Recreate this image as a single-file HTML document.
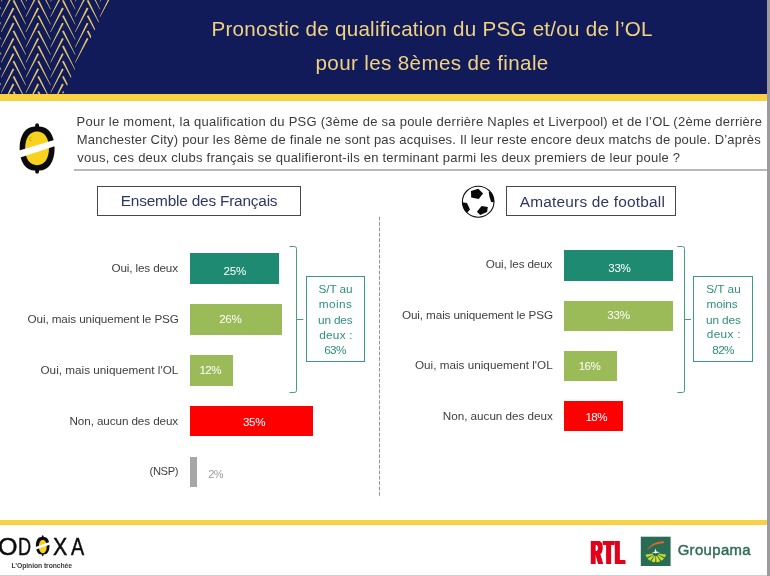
<!DOCTYPE html>
<html lang="fr">
<head>
<meta charset="utf-8">
<title>Pronostic de qualification du PSG et/ou de l'OL</title>
<style>
html,body{margin:0;padding:0;}
body{width:770px;height:576px;position:relative;overflow:hidden;background:#fff;font-family:"Liberation Sans",sans-serif;}
.abs{position:absolute;}
.t{position:absolute;white-space:nowrap;line-height:1;}
#hdr{left:0;top:0;width:767px;height:94.4px;background:#111b5a;}
#yl1{left:0;top:94.3px;width:767px;height:6.3px;background:#f9d03f;}
#yl2{left:0;top:519.5px;width:767px;height:5px;background:#f9d03f;}
#redge{left:767px;top:0;width:3px;height:576px;background:#9c9c9e;}
#bedge{left:0;top:575px;width:767px;height:1px;background:#cfcfcf;}
.title{color:#f1d281;font-size:20.3px;}
.q{color:#3b3b3b;font-size:12.1px;}
#qline{left:74px;top:169px;width:693px;height:2px;background:#b9b9b9;}
.box{position:absolute;border:1px solid #46474f;box-sizing:border-box;background:#fff;}
.bt{color:#2f3763;font-size:15.6px;}
.lab{color:#3f3f3f;font-size:12px;}
.bar{position:absolute;}
.val{color:#fff;}
.teal{background:#1f8a72;}
.olive{background:#9bbb59;}
.red{background:#ff0000;}
.grey{background:#a6a6a6;}
.stbox{position:absolute;border:1px solid #3a9a86;box-sizing:border-box;background:#fff;}
.st{color:#2e8f7b;}
</style>
</head>
<body>
<div id="hdr" class="abs"></div>
<svg class="abs" style="left:0;top:0" width="130" height="95" viewBox="0 0 130 95">
<defs><clipPath id="hc"><polygon points="0,0 109.5,0 62.5,95 0,95"/></clipPath></defs>
<g fill="#e4c56b" clip-path="url(#hc)"><polygon points="-12.05,-44.80 -10.35,-45.60 1.43,-21.20 0.87,-21.20"/><polygon points="-12.05,-38.00 -10.35,-37.20 -23.27,-13.60 -23.83,-13.60"/><polygon points="-12.05,-29.60 -10.35,-30.40 1.43,-6.00 0.87,-6.00"/><polygon points="-12.05,-22.80 -10.35,-22.00 -23.27,1.60 -23.83,1.60"/><polygon points="-12.05,-14.40 -10.35,-15.20 1.43,9.20 0.87,9.20"/><polygon points="-12.05,-7.60 -10.35,-6.80 -23.27,16.80 -23.83,16.80"/><polygon points="-12.05,0.80 -10.35,0.00 1.43,24.40 0.87,24.40"/><polygon points="-12.05,7.60 -10.35,8.40 -23.27,32.00 -23.83,32.00"/><polygon points="-12.05,16.00 -10.35,15.20 1.43,39.60 0.87,39.60"/><polygon points="-12.05,22.80 -10.35,23.60 -23.27,47.20 -23.83,47.20"/><polygon points="-12.05,31.20 -10.35,30.40 1.43,54.80 0.87,54.80"/><polygon points="-12.05,38.00 -10.35,38.80 -23.27,62.40 -23.83,62.40"/><polygon points="-12.05,46.40 -10.35,45.60 1.43,70.00 0.87,70.00"/><polygon points="-12.05,53.20 -10.35,54.00 -23.27,77.60 -23.83,77.60"/><polygon points="-12.05,61.60 -10.35,60.80 1.43,85.20 0.87,85.20"/><polygon points="-12.05,68.40 -10.35,69.20 -23.27,92.80 -23.83,92.80"/><polygon points="-12.05,76.80 -10.35,76.00 1.43,100.40 0.87,100.40"/><polygon points="-12.05,83.60 -10.35,84.40 -23.27,108.00 -23.83,108.00"/><polygon points="-12.05,92.00 -10.35,91.20 1.43,115.60 0.87,115.60"/><polygon points="-12.05,98.80 -10.35,99.60 -23.27,123.20 -23.83,123.20"/><polygon points="-12.05,107.20 -10.35,106.40 1.43,130.80 0.87,130.80"/><polygon points="-12.05,114.00 -10.35,114.80 -23.27,138.40 -23.83,138.40"/><polygon points="12.65,-44.80 14.35,-45.60 26.13,-21.20 25.57,-21.20"/><polygon points="12.65,-38.00 14.35,-37.20 1.43,-13.60 0.87,-13.60"/><polygon points="12.65,-29.60 14.35,-30.40 26.13,-6.00 25.57,-6.00"/><polygon points="12.65,-22.80 14.35,-22.00 1.43,1.60 0.87,1.60"/><polygon points="12.65,-14.40 14.35,-15.20 26.13,9.20 25.57,9.20"/><polygon points="12.65,-7.60 14.35,-6.80 1.43,16.80 0.87,16.80"/><polygon points="12.65,0.80 14.35,0.00 26.13,24.40 25.57,24.40"/><polygon points="12.65,7.60 14.35,8.40 1.43,32.00 0.87,32.00"/><polygon points="12.65,16.00 14.35,15.20 26.13,39.60 25.57,39.60"/><polygon points="12.65,22.80 14.35,23.60 1.43,47.20 0.87,47.20"/><polygon points="12.65,31.20 14.35,30.40 26.13,54.80 25.57,54.80"/><polygon points="12.65,38.00 14.35,38.80 1.43,62.40 0.87,62.40"/><polygon points="12.65,46.40 14.35,45.60 26.13,70.00 25.57,70.00"/><polygon points="12.65,53.20 14.35,54.00 1.43,77.60 0.87,77.60"/><polygon points="12.65,61.60 14.35,60.80 26.13,85.20 25.57,85.20"/><polygon points="12.65,68.40 14.35,69.20 1.43,92.80 0.87,92.80"/><polygon points="12.65,76.80 14.35,76.00 26.13,100.40 25.57,100.40"/><polygon points="12.65,83.60 14.35,84.40 1.43,108.00 0.87,108.00"/><polygon points="12.65,92.00 14.35,91.20 26.13,115.60 25.57,115.60"/><polygon points="12.65,98.80 14.35,99.60 1.43,123.20 0.87,123.20"/><polygon points="12.65,107.20 14.35,106.40 26.13,130.80 25.57,130.80"/><polygon points="12.65,114.00 14.35,114.80 1.43,138.40 0.87,138.40"/><polygon points="37.35,-44.80 39.05,-45.60 50.83,-21.20 50.27,-21.20"/><polygon points="37.35,-38.00 39.05,-37.20 26.13,-13.60 25.57,-13.60"/><polygon points="37.35,-29.60 39.05,-30.40 50.83,-6.00 50.27,-6.00"/><polygon points="37.35,-22.80 39.05,-22.00 26.13,1.60 25.57,1.60"/><polygon points="37.35,-14.40 39.05,-15.20 50.83,9.20 50.27,9.20"/><polygon points="37.35,-7.60 39.05,-6.80 26.13,16.80 25.57,16.80"/><polygon points="37.35,0.80 39.05,0.00 50.83,24.40 50.27,24.40"/><polygon points="37.35,7.60 39.05,8.40 26.13,32.00 25.57,32.00"/><polygon points="37.35,16.00 39.05,15.20 50.83,39.60 50.27,39.60"/><polygon points="37.35,22.80 39.05,23.60 26.13,47.20 25.57,47.20"/><polygon points="37.35,31.20 39.05,30.40 50.83,54.80 50.27,54.80"/><polygon points="37.35,38.00 39.05,38.80 26.13,62.40 25.57,62.40"/><polygon points="37.35,46.40 39.05,45.60 50.83,70.00 50.27,70.00"/><polygon points="37.35,53.20 39.05,54.00 26.13,77.60 25.57,77.60"/><polygon points="37.35,61.60 39.05,60.80 50.83,85.20 50.27,85.20"/><polygon points="37.35,68.40 39.05,69.20 26.13,92.80 25.57,92.80"/><polygon points="37.35,76.80 39.05,76.00 50.83,100.40 50.27,100.40"/><polygon points="37.35,83.60 39.05,84.40 26.13,108.00 25.57,108.00"/><polygon points="37.35,92.00 39.05,91.20 50.83,115.60 50.27,115.60"/><polygon points="37.35,98.80 39.05,99.60 26.13,123.20 25.57,123.20"/><polygon points="37.35,107.20 39.05,106.40 50.83,130.80 50.27,130.80"/><polygon points="37.35,114.00 39.05,114.80 26.13,138.40 25.57,138.40"/><polygon points="62.05,-44.80 63.75,-45.60 75.53,-21.20 74.97,-21.20"/><polygon points="62.05,-38.00 63.75,-37.20 50.83,-13.60 50.27,-13.60"/><polygon points="62.05,-29.60 63.75,-30.40 75.53,-6.00 74.97,-6.00"/><polygon points="62.05,-22.80 63.75,-22.00 50.83,1.60 50.27,1.60"/><polygon points="62.05,-14.40 63.75,-15.20 75.53,9.20 74.97,9.20"/><polygon points="62.05,-7.60 63.75,-6.80 50.83,16.80 50.27,16.80"/><polygon points="62.05,0.80 63.75,0.00 75.53,24.40 74.97,24.40"/><polygon points="62.05,7.60 63.75,8.40 50.83,32.00 50.27,32.00"/><polygon points="62.05,16.00 63.75,15.20 75.53,39.60 74.97,39.60"/><polygon points="62.05,22.80 63.75,23.60 50.83,47.20 50.27,47.20"/><polygon points="62.05,31.20 63.75,30.40 75.53,54.80 74.97,54.80"/><polygon points="62.05,38.00 63.75,38.80 50.83,62.40 50.27,62.40"/><polygon points="62.05,46.40 63.75,45.60 75.53,70.00 74.97,70.00"/><polygon points="62.05,53.20 63.75,54.00 50.83,77.60 50.27,77.60"/><polygon points="62.05,61.60 63.75,60.80 75.53,85.20 74.97,85.20"/><polygon points="62.05,68.40 63.75,69.20 50.83,92.80 50.27,92.80"/><polygon points="62.05,76.80 63.75,76.00 75.53,100.40 74.97,100.40"/><polygon points="62.05,83.60 63.75,84.40 50.83,108.00 50.27,108.00"/><polygon points="62.05,92.00 63.75,91.20 75.53,115.60 74.97,115.60"/><polygon points="62.05,98.80 63.75,99.60 50.83,123.20 50.27,123.20"/><polygon points="62.05,107.20 63.75,106.40 75.53,130.80 74.97,130.80"/><polygon points="62.05,114.00 63.75,114.80 50.83,138.40 50.27,138.40"/><polygon points="86.75,-44.80 88.45,-45.60 100.23,-21.20 99.67,-21.20"/><polygon points="86.75,-38.00 88.45,-37.20 75.53,-13.60 74.97,-13.60"/><polygon points="86.75,-29.60 88.45,-30.40 100.23,-6.00 99.67,-6.00"/><polygon points="86.75,-22.80 88.45,-22.00 75.53,1.60 74.97,1.60"/><polygon points="86.75,-14.40 88.45,-15.20 100.23,9.20 99.67,9.20"/><polygon points="86.75,-7.60 88.45,-6.80 75.53,16.80 74.97,16.80"/><polygon points="86.75,0.80 88.45,0.00 100.23,24.40 99.67,24.40"/><polygon points="86.75,7.60 88.45,8.40 75.53,32.00 74.97,32.00"/><polygon points="86.75,16.00 88.45,15.20 100.23,39.60 99.67,39.60"/><polygon points="86.75,22.80 88.45,23.60 75.53,47.20 74.97,47.20"/><polygon points="86.75,31.20 88.45,30.40 100.23,54.80 99.67,54.80"/><polygon points="86.75,38.00 88.45,38.80 75.53,62.40 74.97,62.40"/><polygon points="86.75,46.40 88.45,45.60 100.23,70.00 99.67,70.00"/><polygon points="86.75,53.20 88.45,54.00 75.53,77.60 74.97,77.60"/><polygon points="86.75,61.60 88.45,60.80 100.23,85.20 99.67,85.20"/><polygon points="86.75,68.40 88.45,69.20 75.53,92.80 74.97,92.80"/><polygon points="86.75,76.80 88.45,76.00 100.23,100.40 99.67,100.40"/><polygon points="86.75,83.60 88.45,84.40 75.53,108.00 74.97,108.00"/><polygon points="86.75,92.00 88.45,91.20 100.23,115.60 99.67,115.60"/><polygon points="86.75,98.80 88.45,99.60 75.53,123.20 74.97,123.20"/><polygon points="86.75,107.20 88.45,106.40 100.23,130.80 99.67,130.80"/><polygon points="86.75,114.00 88.45,114.80 75.53,138.40 74.97,138.40"/><polygon points="111.45,-44.80 113.15,-45.60 124.93,-21.20 124.37,-21.20"/><polygon points="111.45,-38.00 113.15,-37.20 100.23,-13.60 99.67,-13.60"/><polygon points="111.45,-29.60 113.15,-30.40 124.93,-6.00 124.37,-6.00"/><polygon points="111.45,-22.80 113.15,-22.00 100.23,1.60 99.67,1.60"/><polygon points="111.45,-14.40 113.15,-15.20 124.93,9.20 124.37,9.20"/><polygon points="111.45,-7.60 113.15,-6.80 100.23,16.80 99.67,16.80"/><polygon points="111.45,0.80 113.15,0.00 124.93,24.40 124.37,24.40"/><polygon points="111.45,7.60 113.15,8.40 100.23,32.00 99.67,32.00"/><polygon points="111.45,16.00 113.15,15.20 124.93,39.60 124.37,39.60"/><polygon points="111.45,22.80 113.15,23.60 100.23,47.20 99.67,47.20"/><polygon points="111.45,31.20 113.15,30.40 124.93,54.80 124.37,54.80"/><polygon points="111.45,38.00 113.15,38.80 100.23,62.40 99.67,62.40"/><polygon points="111.45,46.40 113.15,45.60 124.93,70.00 124.37,70.00"/><polygon points="111.45,53.20 113.15,54.00 100.23,77.60 99.67,77.60"/><polygon points="111.45,61.60 113.15,60.80 124.93,85.20 124.37,85.20"/><polygon points="111.45,68.40 113.15,69.20 100.23,92.80 99.67,92.80"/><polygon points="111.45,76.80 113.15,76.00 124.93,100.40 124.37,100.40"/><polygon points="111.45,83.60 113.15,84.40 100.23,108.00 99.67,108.00"/><polygon points="111.45,92.00 113.15,91.20 124.93,115.60 124.37,115.60"/><polygon points="111.45,98.80 113.15,99.60 100.23,123.20 99.67,123.20"/><polygon points="111.45,107.20 113.15,106.40 124.93,130.80 124.37,130.80"/><polygon points="111.45,114.00 113.15,114.80 100.23,138.40 99.67,138.40"/></g>
</svg>
<div id="yl1" class="abs"></div>
<div id="redge" class="abs"></div>

<div class="t title" id="t1" style="left:211.50px;top:19.00px;font-size:20.6px;letter-spacing:0.254px;">Pronostic de qualification du PSG et/ou de l’OL</div>
<div class="t title" id="t2" style="left:315.50px;top:53.00px;font-size:20.6px;letter-spacing:0.365px;">pour les 8èmes de finale</div>

<!-- lemon icon -->
<svg class="abs" style="left:15px;top:118px" width="45" height="60" viewBox="15 118 45 60">
<path d="M35.10 126.40 Q35.10 123.20 37.10 123.20 Q39.10 123.20 39.10 126.40 C47.95 126.10 54.60 134.39 54.60 148.40 C54.60 162.41 47.95 170.70 39.10 170.40 Q39.10 173.60 37.10 173.60 Q35.10 173.60 35.10 170.40 C26.25 170.70 19.60 162.41 19.60 148.40 C19.60 134.39 26.25 126.10 35.10 126.40z" fill="#0b0b0b"/>
<path d="M37.05 131.40 C44.43 131.40 48.95 137.82 48.95 148.30 C48.95 158.78 44.43 165.20 37.05 165.20 C29.67 165.20 25.15 158.78 25.15 148.30 C25.15 137.82 29.67 131.40 37.05 131.40z" fill="#f8d21c"/>
<polygon points="15,151.8 60,138.2 60,144.6 15,159.3" fill="#fff"/>
<circle cx="29.5" cy="139" r="0.5" fill="#8a7400"/><circle cx="30.8" cy="137.6" r="0.5" fill="#8a7400"/><circle cx="30.9" cy="140.6" r="0.5" fill="#8a7400"/>
</svg>

<div class="t q" id="q1" style="left:76.50px;top:115.00px;font-size:13px;letter-spacing:0.253px;">Pour le moment, la qualification du PSG (3ème de sa poule derrière Naples et Liverpool) et de l’OL (2ème derrière</div>
<div class="t q" id="q2" style="left:76.75px;top:133.00px;font-size:13px;letter-spacing:0.210px;">Manchester City) pour les 8ème de finale ne sont pas acquises. Il leur reste encore deux matchs de poule. D’après</div>
<div class="t q" id="q3" style="left:77.25px;top:151.00px;font-size:13px;letter-spacing:0.238px;">vous, ces deux clubs français se qualifieront-ils en terminant parmi les deux premiers de leur poule ?</div>
<div id="qline" class="abs"></div>

<div class="box" style="left:97.4px;top:186px;width:203.4px;height:29.6px;"></div>
<div class="t bt" id="b1" style="left:120.75px;top:193.00px;font-size:15.4px;letter-spacing:-0.200px;">Ensemble des Français</div>
<div class="box" style="left:505.6px;top:186px;width:170.6px;height:29.5px;"></div>
<div class="t bt" id="b2" style="left:519.75px;top:194.00px;font-size:15.4px;letter-spacing:0.211px;">Amateurs de football</div>

<!-- football -->
<svg class="abs" style="left:458px;top:182px" width="40" height="40" viewBox="458 182 40 40">
<defs><clipPath id="bc"><ellipse cx="478.2" cy="201.7" rx="15.9" ry="15.6"/></clipPath></defs>
<ellipse cx="478.2" cy="201.7" rx="15.8" ry="15.5" fill="#fff" stroke="#111" stroke-width="1.1"/>
<g fill="#0a0a0a" clip-path="url(#bc)">
<polygon points="471.0,190.9 478.3,188.8 483.1,193.5 478.7,199.1 471.2,197.5"/>
<polygon points="476.9,211.7 481.6,206.1 487.8,207.0 487.1,212.1 480.2,214.9"/>
<polygon points="460,201.8 467.0,203.0 470.0,209.5 467.0,212.8 462,214 458,206"/>
<polygon points="488.7,191.6 493,193 497,202.3 491.1,202.1 489.2,195.7"/>
</g>
</svg>

<!-- dashed divider -->
<svg class="abs" style="left:376px;top:214px" width="8" height="290" viewBox="376 214 8 290">
<line x1="379.5" y1="216.7" x2="379.5" y2="497.6" stroke="#959595" stroke-width="1" stroke-dasharray="3.7 1.7"/>
</svg>
<div class="bar teal" style="left:190.1px;top:253.2px;width:88.9px;height:30.5px;"></div>
<div class="t lab" id="ll0" style="left:111.50px;top:262.00px;font-size:11.7px;letter-spacing:-0.137px;">Oui, les deux</div>
<div class="t val" id="lv0" style="left:223.50px;top:265.00px;font-size:11.6px;letter-spacing:-0.150px;">25%</div>
<div class="bar olive" style="left:190.1px;top:303.5px;width:91.6px;height:31.1px;"></div>
<div class="t lab" id="ll1" style="left:27.50px;top:313.00px;font-size:11.7px;letter-spacing:-0.098px;">Oui, mais uniquement le PSG</div>
<div class="t val" id="lv1" style="left:219.25px;top:313.00px;font-size:11.6px;letter-spacing:-0.375px;">26%</div>
<div class="bar olive" style="left:190.1px;top:354.5px;width:42.8px;height:31.0px;"></div>
<div class="t lab" id="ll2" style="left:40.50px;top:364.00px;font-size:11.7px;letter-spacing:0.019px;">Oui, mais uniquement l'OL</div>
<div class="t val" id="lv2" style="left:199.50px;top:364.00px;font-size:11.6px;letter-spacing:-0.625px;">12%</div>
<div class="bar red" style="left:190.1px;top:405.7px;width:123.2px;height:30.3px;"></div>
<div class="t lab" id="ll3" style="left:69.50px;top:415.00px;font-size:11.7px;letter-spacing:-0.097px;">Non, aucun des deux</div>
<div class="t val" id="lv3" style="left:243.00px;top:416.00px;font-size:11.6px;letter-spacing:-0.375px;">35%</div>
<div class="bar grey" style="left:190.1px;top:456.6px;width:7.4px;height:30.6px;"></div>
<div class="t lab" id="ll4" style="left:149.60px;top:466.00px;font-size:11.2px;letter-spacing:-0.400px;">(NSP)</div>
<div class="t val" id="lv4" style="left:208.20px;top:469.00px;font-size:11.0px;letter-spacing:-0.600px;color:#9c9c9c;">2%</div>
<div class="bar teal" style="left:564.0px;top:250.1px;width:109.2px;height:30.5px;"></div>
<div class="t lab" id="rl0" style="left:485.75px;top:258.00px;font-size:11.7px;letter-spacing:-0.129px;">Oui, les deux</div>
<div class="t val" id="rv0" style="left:608.25px;top:262.00px;font-size:11.6px;letter-spacing:-0.275px;">33%</div>
<div class="bar olive" style="left:564.0px;top:300.5px;width:109.2px;height:30.3px;"></div>
<div class="t lab" id="rl1" style="left:402.00px;top:309.00px;font-size:11.7px;letter-spacing:-0.113px;">Oui, mais uniquement le PSG</div>
<div class="t val" id="rv1" style="left:607.25px;top:309.00px;font-size:11.6px;letter-spacing:-0.225px;">33%</div>
<div class="bar olive" style="left:564.0px;top:351.0px;width:53.3px;height:30.0px;"></div>
<div class="t lab" id="rl2" style="left:415.00px;top:359.00px;font-size:11.7px;letter-spacing:0.013px;">Oui, mais uniquement l'OL</div>
<div class="t val" id="rv2" style="left:578.75px;top:360.00px;font-size:11.6px;letter-spacing:-0.575px;">16%</div>
<div class="bar red" style="left:564.0px;top:401.2px;width:59.3px;height:30.2px;"></div>
<div class="t lab" id="rl3" style="left:442.75px;top:410.00px;font-size:11.7px;letter-spacing:-0.019px;">Non, aucun des deux</div>
<div class="t val" id="rv3" style="left:585.50px;top:411.00px;font-size:11.6px;letter-spacing:-0.575px;">18%</div>
<svg class="abs" style="left:286px;top:243px" width="22" height="154" viewBox="286 243 22 154"><path d="M289.5 246.5 H294.5 Q296.5 246.5 296.5 248.5 V390.5 Q296.5 392.5 294.5 392.5 H289.5 M296.5 319.5 H303.4" fill="none" stroke="#4a9a8a" stroke-width="1"/></svg>
<svg class="abs" style="left:674px;top:243px" width="21" height="154" viewBox="674 243 21 154"><path d="M677.4 246.5 H682.5 Q684.5 246.5 684.5 248.5 V390.5 Q684.5 392.5 682.5 392.5 H677.4 M684.5 319.5 H691" fill="none" stroke="#4a9a8a" stroke-width="1"/></svg>
<div class="stbox" style="left:305.8px;top:276px;width:59.39999999999998px;height:86.39999999999998px;"></div>
<div class="t st" id="sl0" style="left:318.50px;top:284.00px;font-size:11.8px;letter-spacing:-0.120px;">S/T au</div>
<div class="t st" id="sl1" style="left:318.75px;top:299.00px;font-size:11.8px;letter-spacing:0.425px;">moins</div>
<div class="t st" id="sl2" style="left:318.00px;top:315.00px;font-size:11.8px;letter-spacing:-0.160px;">un des</div>
<div class="t st" id="sl3" style="left:319.25px;top:330.00px;font-size:11.8px;letter-spacing:0.250px;">deux :</div>
<div class="t st" id="sl4" style="left:324.25px;top:345.00px;font-size:11.8px;letter-spacing:-0.725px;">63%</div>
<div class="stbox" style="left:692.7px;top:275.8px;width:60.5px;height:86.59999999999997px;"></div>
<div class="t st" id="sr0" style="left:706.25px;top:284.00px;font-size:11.8px;letter-spacing:-0.020px;">S/T au</div>
<div class="t st" id="sr1" style="left:706.50px;top:299.00px;font-size:11.8px;letter-spacing:-0.062px;">moins</div>
<div class="t st" id="sr2" style="left:706.00px;top:315.00px;font-size:11.8px;letter-spacing:-0.110px;">un des</div>
<div class="t st" id="sr3" style="left:706.75px;top:329.00px;font-size:11.8px;letter-spacing:0.330px;">deux :</div>
<div class="t st" id="sr4" style="left:712.25px;top:345.00px;font-size:11.8px;letter-spacing:-0.675px;">82%</div>

<div id="yl2" class="abs"></div>
<div id="bedge" class="abs"></div>

<!-- ODOXA logo -->
<div class="t " id="oO" style="left:-2.47px;top:535.00px;font-size:24.6px;transform-origin:0 0;transform:scaleX(1.0200);color:#0c0c0c;-webkit-text-stroke:0.45px #0c0c0c;">O</div>
<div class="t " id="oD" style="left:17.67px;top:535.00px;font-size:24.6px;transform-origin:0 0;transform:scaleX(0.7360);color:#0c0c0c;-webkit-text-stroke:0.45px #0c0c0c;">D</div>
<div class="t " id="oX" style="left:53.00px;top:535.00px;font-size:24.6px;transform-origin:0 0;transform:scaleX(0.8700);color:#0c0c0c;-webkit-text-stroke:0.45px #0c0c0c;">X</div>
<div class="t " id="oA" style="left:71.00px;top:535.00px;font-size:24.6px;transform-origin:0 0;transform:scaleX(0.8027);color:#0c0c0c;-webkit-text-stroke:0.45px #0c0c0c;">A</div>
<svg class="abs" style="left:34px;top:534px" width="18" height="24" viewBox="34 534 18 24">
<path d="M41.70 536.95 Q41.70 535.15 42.70 535.15 Q43.70 535.15 43.70 536.95 C46.92 536.65 49.50 539.88 49.50 545.65 C49.50 551.42 46.92 554.65 43.70 554.35 Q43.70 556.15 42.70 556.15 Q41.70 556.15 41.70 554.35 C38.48 554.65 35.90 551.42 35.90 545.65 C35.90 539.88 38.48 536.65 41.70 536.95z" fill="#0b0b0b"/>
<path d="M42.80 540.00 C45.22 540.00 46.70 542.51 46.70 546.60 C46.70 550.69 45.22 553.20 42.80 553.20 C40.38 553.20 38.90 550.69 38.90 546.60 C38.90 542.51 40.38 540.00 42.80 540.00z" fill="#f8d21c"/>
<polygon points="34,547.4 51,541.6 51,544.3 34,550.2" fill="#fff"/>
</svg>
<div class="t " id="od3" style="left:11.50px;top:563.00px;font-size:6.8px;letter-spacing:-0.079px;font-weight:bold;color:#3a3a3a;">L’Opinion tronchée</div>

<!-- RTL -->
<div class="t " id="rtl" style="left:590.70px;top:537.00px;font-size:32.4px;transform-origin:0 0;transform:scaleX(0.4808);font-weight:bold;color:#e3001b;letter-spacing:3.5px;text-shadow:1px 0 0 #e3001b,-1px 0 0 #e3001b,2px 0 0 #e3001b,-2px 0 0 #e3001b,2.8px 0 0 #e3001b,-2.8px 0 0 #e3001b;">RTL</div>

<!-- Groupama -->
<svg class="abs" style="left:640px;top:536px" width="32" height="31" viewBox="640 536 32 31">
<rect x="640.8" y="536.7" width="29.8" height="29.3" fill="#2a6b55"/>
<path d="M647.0 550.4 C649.0 545.6 655.0 541.6 663.9 541.3 C664.4 542.2 663.6 543.4 662.4 543.6 C656.5 543.6 650.6 546.0 647.0 550.4z" fill="#e8652b"/>
<polygon points="658.77,553.62 658.42,554.66 664.89,557.57 665.66,556.06 666.10,554.45" fill="#b6d334"/>
<polygon points="658.21,554.99 657.40,555.73 661.36,560.80 662.88,559.80 664.15,558.56" fill="#c8da2f"/>
<polygon points="657.06,555.92 656.00,556.19 656.48,562.18 658.37,561.92 660.17,561.37" fill="#d9e021"/>
<polygon points="655.60,556.19 654.54,555.92 651.43,561.37 653.23,561.92 655.12,562.18" fill="#d9e021"/>
<polygon points="654.20,555.73 653.39,554.99 647.45,558.56 648.72,559.80 650.24,560.80" fill="#c8da2f"/>
<polygon points="653.18,554.66 652.83,553.62 645.50,554.45 645.94,556.06 646.71,557.57" fill="#b6d334"/>
<path d="M651.9 552.6 L654.6 551.7 L655.3 548.6 L656.4 551.6 L659.8 552.2 L656.6 552.9 L655.8 553.6 L654.8 552.9z" fill="#fff"/>
</svg>
<div class="t " id="grp" style="left:677.65px;top:543.00px;font-size:14.9px;letter-spacing:0.371px;color:#2f6d55;-webkit-text-stroke:0.45px #2f6d55;">Groupama</div>

</body>
</html>
